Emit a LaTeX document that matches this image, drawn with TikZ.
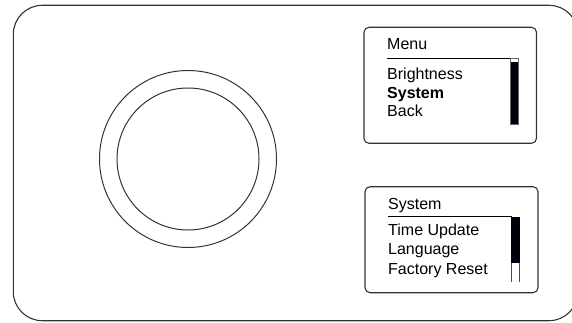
\documentclass[tikz,border=0pt]{standalone}
\usepackage{fontspec}
\setmainfont{Liberation Sans}
\tikzset{
  frame/.style={draw=black!80, line width=1.1pt},
  ring/.style={draw=black!80, line width=1pt},
  screen/.style={draw=black!80, line width=1.1pt, rounded corners=5pt},
  txt/.style={anchor=base west, inner sep=0pt, font=\fontsize{16}{18}\selectfont},
  rule/.style={draw=black, line width=1pt},
  sbar/.style={draw=black!60, line width=0.7pt, fill=white},
  sfill/.style={fill=black!95!blue},
}
\begin{document}
\begin{tikzpicture}[x=1pt,y=-1pt]
\useasboundingbox (0,0) rectangle (572,323);
\begin{scope}
\clip (0,0) rectangle (572,323);
\draw[frame, rounded corners=29pt] (13.3,5.3) rectangle (578,320.7);
\end{scope}
% knob
\coordinate (knob) at (188,159);
\draw[ring] (knob) circle[radius=88.5];
\draw[ring] (knob) circle[radius=71];
% menu screen
\draw[screen] (364,27.3) rectangle (536.5,143.3);
\node[txt] (m0) at (387,50) {Menu};
\draw[rule] (387,58.3) -- (510.7,58.3);
\node[txt] (m1) at (387,80) {Brightness};
\node[txt] (m2) at (387,98.5) {\bfseries System};
\node[txt] (m3) at (387,117) {Back};
\draw[sbar] (510.7,58.3) rectangle (518,124.5);
\fill[sfill] (511,62) rectangle (517.7,124.5);
% system screen
\draw[screen] (365,186.7) rectangle (538,292.7);
\node[txt] (s0) at (388,209.5) {System};
\draw[rule] (388,216.7) -- (511.7,216.7);
\node[txt] (s1) at (388,235) {Time Update};
\node[txt] (s2) at (388,254.5) {Language};
\node[txt] (s3) at (388,274) {Factory Reset};
\draw[black!70, line width=0.7pt] (511.7,216.7) -- (511.7,281.7) (519.5,216.7) -- (519.5,281.7);
\fill[sfill] (511.3,216.7) rectangle (519.9,263.3);
\end{tikzpicture}
\end{document}
